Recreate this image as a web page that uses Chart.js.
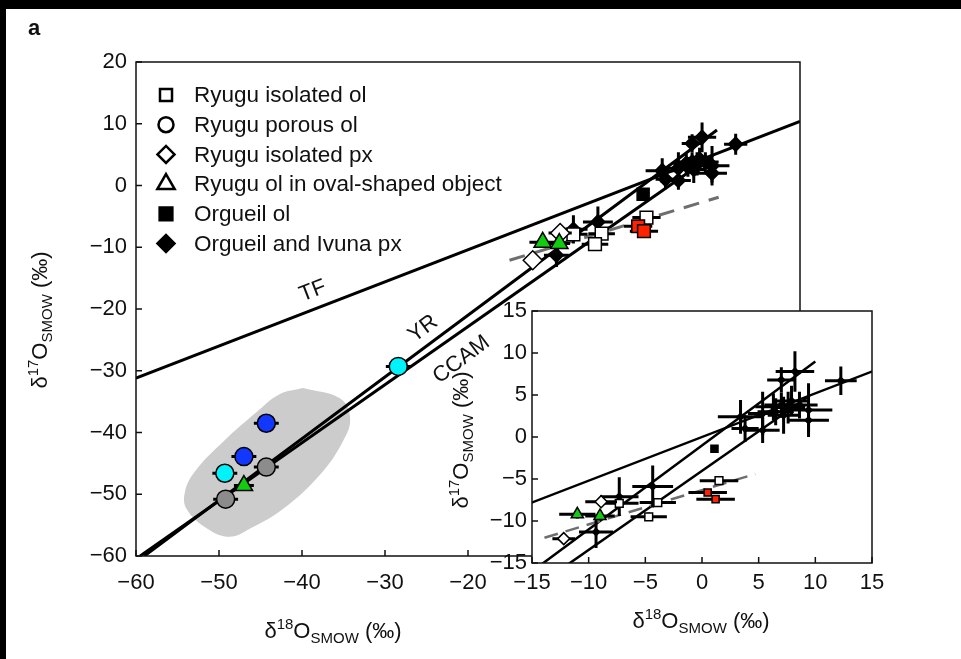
<!DOCTYPE html>
<html>
<head>
<meta charset="utf-8">
<script src="https://cdn.jsdelivr.net/npm/chart.js@4.4.1/dist/chart.umd.min.js"></script>
<style>
  html, body { margin: 0; padding: 0; background: #000; }
  #wrap { position: relative; width: 961px; height: 659px; overflow: hidden; }
  #wrap canvas { position: absolute; left: 0; top: 0; }
</style>
</head>
<body>
<div id="wrap">
  <canvas id="main" width="961" height="659"></canvas>
  <canvas id="inset" width="961" height="659"></canvas>
</div>
<script>
// ---------- oxygen isotope data (δ18O, δ17O in ‰ vs SMOW) ----------

// Ryugu isolated olivine (open squares)
const isoOlX    = [-7.3, -3.9, -4.7, 1.5];
const isoOlY    = [-7.9, -7.8, -9.5, -5.2];
const isoOlXErr = [1.7, 1.6, 1.6, 1.7];
const isoOlYErr = [0.5, 0.5, 0.5, 0.5];

// Ryugu isolated olivine, red-filled grains
const isoOlRedX    = [0.5, 1.2];
const isoOlRedY    = [-6.6, -7.4];
const isoOlRedXErr = [1.7, 1.7];
const isoOlRedYErr = [0.4, 0.4];

// Ryugu porous olivine (circles), split by fill colour
const porCyanX = [-28.4, -49.3];
const porCyanY = [-29.3, -46.6];
const porBlueX = [-44.3, -47.0];
const porBlueY = [-38.5, -43.9];
const porGrayX = [-44.3, -49.2];
const porGrayY = [-45.6, -50.8];
const porXErr  = [1.5, 1.5];
const porYErr  = [0.6, 0.6];

// Ryugu isolated pyroxene (open diamonds)
const isoPxX    = [-12.2, -8.9];
const isoPxY    = [-12.1, -7.7];
const isoPxXErr = [1.0, 1.4];
const isoPxYErr = [0.4, 0.4];

// Ryugu olivine in oval-shaped object (green triangles)
const ovalX    = [-11.0, -9.0, -47.0];
const ovalY    = [-9.2, -9.4, -48.6];
const ovalXErr = [1.6, 1.3, 1.2];
const ovalYErr = [0.5, 0.5, 0.5];

// Orgueil olivine (filled square)
const orgOlX = [1.1];
const orgOlY = [-1.4];

// Orgueil and Ivuna pyroxene (filled diamonds)
const orgPxX    = [-9.35, -7.3, -4.35, 3.4, 3.8, 5.35, 5.35, 7.0, 8.2, 12.25, 7.0, 7.6, 9.4, 9.4, 6.5, 6.3, 7.9, 7.2, 8.6];
const orgPxY    = [-11.3, -7.1, -5.9, 2.4, 1.0, 2.8, 0.8, 6.8, 7.8, 6.7, 3.8, 3.5, 3.2, 2.0, 3.0, 3.6, 4.3, 2.6, 3.8];
const orgPxXErr = [1.5, 1.7, 1.8, 2.0, 1.2, 1.3, 1.5, 1.25, 1.7, 1.4, 1.5, 1.5, 2.1, 1.8, 1.6, 1.6, 1.5, 1.4, 1.6];
const orgPxYErr = [1.9, 2.3, 2.5, 2.0, 1.6, 2.6, 1.5, 1.5, 2.4, 1.7, 1.5, 1.9, 3.2, 1.5, 1.6, 1.6, 1.8, 2.2, 1.6];

// Outline of the shaded field around the 16O-rich grains
const blobX = [-39.9, -35.4, -34.2, -35.1, -37.8, -42.3, -46.3, -48.7, -51.4, -53.9, -54.1, -52.9, -49.5, -45.4, -42.7, -39.9];
const blobY = [-32.8, -34.5, -37.7, -41.5, -46.8, -52.4, -55.6, -56.9, -55.6, -52.4, -49.6, -46.3, -41.5, -36.6, -33.8, -32.8];

// Reference lines (end points)
const tfX   = [-60, 20];      const tfY   = [-31.2, 10.4];   // terrestrial fractionation
const yrX   = [-59.0, 10.0];  const yrY   = [-60.0, 9.0];    // Young & Russell line
const ccamX = [-59.5, 9.5];   const ccamY = [-60.0, 4.9];    // CCAM line
const dashMainX  = [-15.0, 10.2]; const dashMainY  = [-12.1, -1.9];
const dashInsetX = [-13.9, 4.7];  const dashInsetY = [-12.0, -4.4];

// Axis ticks and labels
const mainXTicks = [-60, -50, -40, -30, -20];
const mainXTickLabels = ['\u221260', '\u221250', '\u221240', '\u221230', '\u221220'];
const mainYTicks = [-60, -50, -40, -30, -20, -10, 0, 10, 20];
const mainYTickLabels = ['\u221260', '\u221250', '\u221240', '\u221230', '\u221220', '\u221210', '0', '10', '20'];
const insetTicks = [-15, -10, -5, 0, 5, 10, 15];
const insetTickLabels = ['\u221215', '\u221210', '\u22125', '0', '5', '10', '15'];

const legendNames = [
  'Ryugu isolated ol',
  'Ryugu porous ol',
  'Ryugu isolated px',
  'Ryugu ol in oval-shaped object',
  'Orgueil ol',
  'Orgueil and Ivuna px'
];

// ---------- drawing ----------
const FONT = '"Liberation Sans", Arial, Helvetica, sans-serif';
Chart.defaults.font.family = FONT;
Chart.defaults.font.size = 22;
Chart.defaults.color = '#111';

const pts = (xs, ys) => xs.map((x, i) => ({ x, y: ys[i] }));

function buildDatasets(s, panel) {
  const sets = [];
  if (panel === 'main') {
    sets.push({ data: pts(blobX, blobY), showLine: true, fill: 'shape', tension: 0.4,
      borderWidth: 0, backgroundColor: '#cccccc', pointRadius: 0, order: 20 });
  }
  const line = (xs, ys) => ({ data: pts(xs, ys), showLine: true, borderColor: '#000',
    borderWidth: s.line, pointRadius: 0, fill: false, order: 15 });
  sets.push(line(tfX, tfY), line(yrX, yrY), line(ccamX, ccamY));
  const dX = panel === 'main' ? dashMainX : dashInsetX;
  const dY = panel === 'main' ? dashMainY : dashInsetY;
  sets.push({ data: pts(dX, dY), showLine: true, borderColor: '#6e6e6e', borderWidth: s.line,
    borderDash: s.dash, pointRadius: 0, fill: false, order: 14 });

  const mk = (xs, ys, xe, ye, style, fillC, r, order) => ({
    data: pts(xs, ys), xErr: xe, yErr: ye, pointStyle: style, pointRadius: r,
    backgroundColor: fillC, borderColor: '#000', pointBorderWidth: s.mb, order
  });
  sets.push(mk(orgPxX, orgPxY, orgPxXErr, orgPxYErr, 'rectRot', '#000', s.pxB, 9));
  sets.push(mk(orgOlX, orgOlY, null, null, 'rect', '#000', s.olB, 8));
  sets.push(mk(isoOlX, isoOlY, isoOlXErr, isoOlYErr, 'rect', '#ffffff', s.sq, 7));
  sets.push(mk(isoOlRedX, isoOlRedY, isoOlRedXErr, isoOlRedYErr, 'rect', '#ff2200', s.red, 6));
  sets.push(mk(isoPxX, isoPxY, isoPxXErr, isoPxYErr, 'rectRot', '#ffffff', s.dia, 5));
  sets.push(mk(ovalX, ovalY, ovalXErr, ovalYErr, 'triangle', '#11cc11', s.tri, 4));
  sets.push(mk(porCyanX, porCyanY, porXErr, porYErr, 'circle', '#00f2fa', s.circ, 3));
  sets.push(mk(porBlueX, porBlueY, porXErr, porYErr, 'circle', '#1238ff', s.circ, 3));
  sets.push(mk(porGrayX, porGrayY, porXErr, porYErr, 'circle', '#8c8c8c', s.circ, 3));
  return sets;
}

// error bars, painted right before each marker set
const errorBars = {
  id: 'errorBars',
  beforeDatasetDraw(chart, args, opts) {
    const ds = chart.data.datasets[args.index];
    if (!ds.xErr) return;
    const { ctx, chartArea: a } = chart;
    const xs = chart.scales.x, ys = chart.scales.y;
    ctx.save();
    ctx.beginPath();
    ctx.rect(a.left, a.top, a.right - a.left, a.bottom - a.top);
    ctx.clip();
    ctx.strokeStyle = '#000';
    ctx.lineWidth = opts.width;
    ds.data.forEach((p, i) => {
      const ex = ds.xErr[i], ey = ds.yErr[i];
      const cx = xs.getPixelForValue(p.x), cy = ys.getPixelForValue(p.y);
      ctx.beginPath();
      ctx.moveTo(xs.getPixelForValue(p.x - ex), cy);
      ctx.lineTo(xs.getPixelForValue(p.x + ex), cy);
      ctx.moveTo(cx, ys.getPixelForValue(p.y - ey));
      ctx.lineTo(cx, ys.getPixelForValue(p.y + ey));
      ctx.stroke();
    });
    ctx.restore();
  }
};

// δ^nO_SMOW (‰) with super- and subscripts
function drawIsoTitle(ctx, mass, cx, cy, angle) {
  const parts = [
    { t: '\u03b4', f: 22, dy: 0 },
    { t: mass, f: 15, dy: -9 },
    { t: 'O', f: 22, dy: 0 },
    { t: 'SMOW', f: 15, dy: 5 },
    { t: ' (\u2030)', f: 22, dy: 0 }
  ];
  ctx.save();
  ctx.translate(cx, cy);
  ctx.rotate(angle);
  ctx.fillStyle = '#111';
  ctx.textBaseline = 'alphabetic';
  ctx.textAlign = 'left';
  let w = 0;
  parts.forEach(p => { ctx.font = p.f + 'px ' + FONT; p.w = ctx.measureText(p.t).width; w += p.w; });
  let x = -w / 2;
  parts.forEach(p => { ctx.font = p.f + 'px ' + FONT; ctx.fillText(p.t, x, 8 + p.dy); x += p.w; });
  ctx.restore();
}

function drawFrameAndTicks(ctx, chart, xt, yt, len) {
  const a = chart.chartArea, sx = chart.scales.x, sy = chart.scales.y;
  ctx.save();
  ctx.strokeStyle = '#111';
  ctx.lineWidth = 1.5;
  ctx.strokeRect(a.left, a.top, a.right - a.left, a.bottom - a.top);
  ctx.beginPath();
  xt.forEach(v => { const p = sx.getPixelForValue(v); ctx.moveTo(p, a.bottom); ctx.lineTo(p, a.bottom - len); });
  yt.forEach(v => { const p = sy.getPixelForValue(v); ctx.moveTo(a.left, p); ctx.lineTo(a.left + len, p); });
  ctx.stroke();
  ctx.restore();
}

const refLabels = [
  { text: 'TF', x: -38.7, y: -17.1, angle: -21 },
  { text: 'YR', x: -25.4, y: -23.2, angle: -37 },
  { text: 'CCAM', x: -20.8, y: -28.2, angle: -37 }
];

const legendStyles = [
  { style: 'rect', fill: '#fff', r: 8.5 },
  { style: 'circle', fill: '#fff', r: 7.5 },
  { style: 'rectRot', fill: '#fff', r: 8.5 },
  { style: 'triangle', fill: '#fff', r: 10 },
  { style: 'rect', fill: '#000', r: 9 },
  { style: 'rectRot', fill: '#000', r: 8.5 }
];

const mainDecor = {
  id: 'mainDecor',
  beforeDraw(chart) {
    const { ctx, width, height } = chart;
    ctx.save();
    ctx.fillStyle = '#000';
    ctx.fillRect(0, 0, width, height);
    ctx.fillStyle = '#fff';
    ctx.fillRect(6, 9, width - 6, height - 9);
    ctx.restore();
  },
  afterDraw(chart) {
    const { ctx } = chart;
    const sx = chart.scales.x, sy = chart.scales.y;
    drawFrameAndTicks(ctx, chart, mainXTicks, mainYTicks, 6);

    // line labels
    ctx.save();
    ctx.fillStyle = '#111';
    ctx.font = '22px ' + FONT;
    ctx.textAlign = 'center';
    ctx.textBaseline = 'middle';
    refLabels.forEach(l => {
      ctx.save();
      ctx.translate(sx.getPixelForValue(l.x), sy.getPixelForValue(l.y));
      ctx.rotate(l.angle * Math.PI / 180);
      ctx.fillText(l.text, 0, 0);
      ctx.restore();
    });
    ctx.restore();

    // legend
    ctx.save();
    legendNames.forEach((name, i) => {
      const y = 95 + i * 29.7;
      const st = legendStyles[i];
      ctx.fillStyle = st.fill;
      ctx.strokeStyle = '#000';
      ctx.lineWidth = 2.5;
      Chart.helpers.drawPoint(ctx, { pointStyle: st.style, radius: st.r, rotation: 0, borderWidth: 2.5 }, 166, y);
      ctx.fillStyle = '#111';
      ctx.font = '22.5px ' + FONT;
      ctx.textAlign = 'left';
      ctx.textBaseline = 'middle';
      ctx.fillText(name, 194, y + 1);
    });
    ctx.restore();

    // axis titles and panel letter
    drawIsoTitle(ctx, '18', 333, 630, 0);
    drawIsoTitle(ctx, '17', 39, 320, -Math.PI / 2);
    ctx.save();
    ctx.fillStyle = '#111';
    ctx.font = 'bold 22px ' + FONT;
    ctx.textBaseline = 'alphabetic';
    ctx.fillText('a', 28, 35);
    ctx.restore();
  }
};

const insetDecor = {
  id: 'insetDecor',
  beforeDraw(chart) {
    const { ctx, width, height, chartArea: a } = chart;
    ctx.save();
    ctx.fillStyle = '#fff';
    ctx.fillRect(a.left, a.top, width - a.left, height - a.top);
    ctx.restore();
  },
  afterDraw(chart) {
    const { ctx } = chart;
    drawFrameAndTicks(ctx, chart, insetTicks, insetTicks, 6);
    drawIsoTitle(ctx, '18', 701, 620, 0);
    drawIsoTitle(ctx, '17', 460, 440, -Math.PI / 2);
  }
};

function axisOpts(min, max, ticks, labels, pad, fitKey, fitVal) {
  return {
    type: 'linear', min, max,
    grid: { display: false, drawTicks: false },
    border: { display: false },
    afterBuildTicks: s => { s.ticks = ticks.map(v => ({ value: v })); },
    afterFit: s => { s[fitKey] = fitVal; },
    ticks: {
      padding: pad, color: '#111', font: { size: 22 },
      callback: v => { const i = ticks.indexOf(v); return i < 0 ? '' : labels[i]; }
    }
  };
}

const mainSizes = { line: 3, dash: [16, 10], mb: 1.5, pxB: 7, olB: 8.5, sq: 9, red: 9, dia: 9.5, tri: 10, circ: 9 };
const insetSizes = { line: 2.5, dash: [14, 8], mb: 1.5, pxB: 3.5, olB: 5, sq: 5.5, red: 5, dia: 6, tri: 7, circ: 6 };

new Chart(document.getElementById('main'), {
  type: 'scatter',
  data: { datasets: buildDatasets(mainSizes, 'main') },
  options: {
    responsive: false, animation: false, events: [],
    layout: { padding: { left: 0, top: 62, right: 161, bottom: 0 } },
    plugins: { legend: { display: false }, tooltip: { enabled: false }, errorBars: { width: 3 } },
    scales: {
      x: axisOpts(-60, 20, mainXTicks, mainXTickLabels, 14, 'height', 103),
      y: axisOpts(-60, 20, mainYTicks, mainYTickLabels, 9, 'width', 136)
    }
  },
  plugins: [mainDecor, errorBars]
});

new Chart(document.getElementById('inset'), {
  type: 'scatter',
  data: { datasets: buildDatasets(insetSizes, 'inset') },
  options: {
    responsive: false, animation: false, events: [],
    layout: { padding: { left: 0, top: 311, right: 89, bottom: 0 } },
    plugins: { legend: { display: false }, tooltip: { enabled: false }, errorBars: { width: 3 } },
    scales: {
      x: axisOpts(-15, 15, insetTicks, insetTickLabels, 7, 'height', 96),
      y: axisOpts(-15, 15, insetTicks, insetTickLabels, 5, 'width', 532)
    }
  },
  plugins: [insetDecor, errorBars]
});
</script>
</body>
</html>
